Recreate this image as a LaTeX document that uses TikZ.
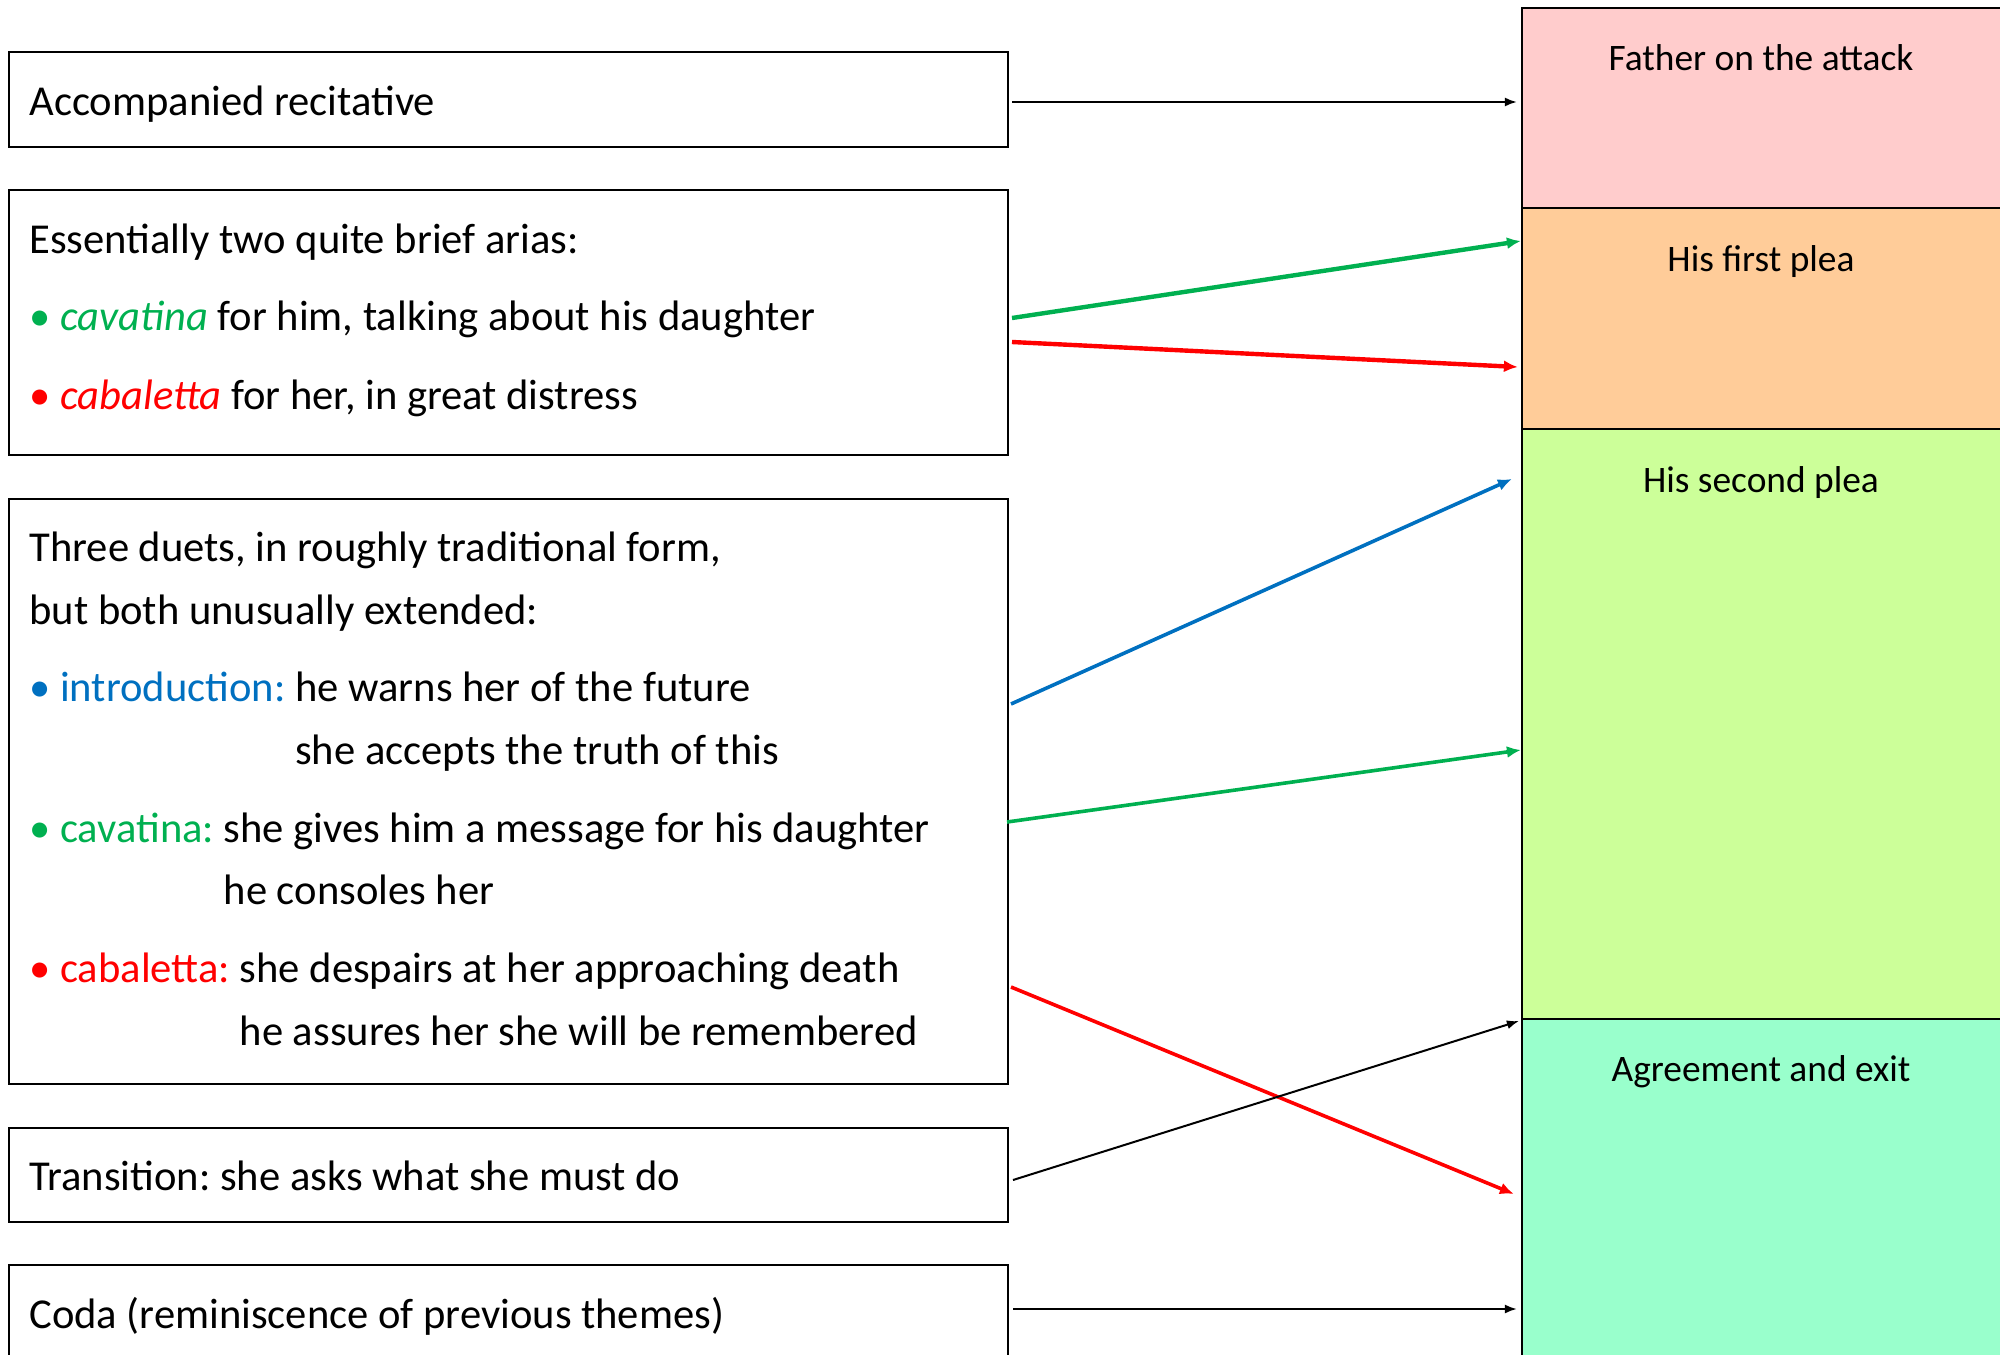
\documentclass[tikz,border=0pt]{standalone}
\usepackage{fontspec}
\setmainfont{Carlito}
\usetikzlibrary{arrows.meta,calc}
\definecolor{cgreen}{HTML}{00B050}
\definecolor{cred}{HTML}{FF0000}
\definecolor{cblue}{HTML}{0070C0}
\definecolor{fpink}{HTML}{FFCCCC}
\definecolor{forange}{HTML}{FFCC99}
\definecolor{fgreen}{HTML}{CCFF99}
\definecolor{fteal}{HTML}{99FFCC}
\frenchspacing
\begin{document}
\begin{tikzpicture}[x=0.5pt,y=-0.5pt,
  lbox/.style={draw=black, line width=1pt, inner sep=0pt, minimum width=499.5pt},
  seg/.style={draw=black, line width=1.1pt, inner sep=0pt, minimum width=244pt},
  ltext/.style={anchor=base west, inner sep=0pt, font=\fontsize{21.3pt}{25pt}\selectfont},
  rtext/.style={anchor=base, inner sep=0pt, font=\fontsize{18.7pt}{22pt}\selectfont},
  thin/.style={draw=black, line width=1pt, -{Latex[length=6pt,width=4.5pt]}},
  thick/.style={line width=2.2pt, -{Latex[length=7pt,width=6pt]}},
  mid/.style={line width=1.8pt, -{Latex[length=7pt,width=6pt]}}
]
\useasboundingbox (0,0) rectangle (2000,1354);

% right column
\node[seg, fill=fpink, minimum height=100pt] (pink) at (1766,108) {};
\node[seg, fill=forange, minimum height=110.5pt] (orange) at (1766,318.5) {};
\node[seg, fill=fgreen, minimum height=295pt] (green) at (1766,724) {};
\node[seg, fill=fteal, minimum height=180.5pt] (teal) at (1766,1199.5) {};

\node[rtext] (h1) at (1761,71) {Father on the attack};
\node[rtext] (h2) at (1761,271) {His first plea};
\node[rtext] (h3) at (1761,492) {His second plea};
\node[rtext] (h4) at (1761,1081) {Agreement and exit};

% left boxes
\node[lbox, minimum height=47.5pt] (b1) at (508.5,99.5) {};
\node[lbox, minimum height=132.5pt] (b2) at (508.5,322.5) {};
\node[lbox, minimum height=292.5pt] (b3) at (508.5,791.5) {};
\node[lbox, minimum height=47pt] (b4) at (508.5,1175) {};
\node[lbox, minimum height=57.5pt] (b5) at (508.5,1322.5) {};

\node[ltext] (t1) at (29,115) {Accompanied recitative};
\node[ltext] (t2a) at (29,253) {Essentially two quite brief arias:};
\node[ltext] (t2b) at (29,330) {{\color{cgreen}• \textit{cavatina}} for him, talking about his daughter};
\node[ltext] (t2c) at (29,409) {{\color{cred}• \textit{cabaletta}} for her, in great distress};
\node[ltext] (t3a) at (29,561) {Three duets, in roughly traditional form,};
\node[ltext] (t3b) at (29,624) {but both unusually extended:};
\node[ltext] (t3c) at (29,701) {{\color{cblue}• introduction:} he warns her of the future};
\node[ltext] (t3d) at (29,764) {\phantom{• introduction: }she accepts the truth of this};
\node[ltext] (t3e) at (29,842) {{\color{cgreen}• cavatina:} she gives him a message for his daughter};
\node[ltext] (t3f) at (29,904) {\phantom{• cavatina: }he consoles her};
\node[ltext] (t3g) at (29,982) {{\color{cred}• cabaletta:} she despairs at her approaching death};
\node[ltext] (t3h) at (29,1045) {\phantom{• cabaletta: }he assures her she will be remembered};
\node[ltext] (t4) at (29,1190) {Transition: she asks what she must do};
\node[ltext] (t5) at (29,1328) {Coda (reminiscence of previous themes)};

% connectors
\draw[thin] ($(b1.east)+(3,2.5)$) -- ($(pink.west)+(-4,-6)$);
\draw[thick, draw=cgreen] ($(b2.east)+(3,-4.5)$) -- ($(orange.west)+(0,-77.5)$);
\draw[thick, draw=cred] ($(b2.east)+(3,19.5)$) -- ($(orange.west)+(-3,48.5)$);
\draw[mid, draw=cblue] ($(b3.east)+(2,-87.5)$) -- ($(green.west)+(-9,-245)$);
\draw[mid, draw=cgreen] ($(b3.east)+(-2,30.5)$) -- ($(green.west)+(0,26)$);
\draw[mid, draw=cred] ($(b3.east)+(2,195.5)$) -- ($(teal.west)+(-7,-5.5)$);
\draw[thin] ($(b4.east)+(4,5)$) -- ($(teal.west)+(-2,-178.5)$);
\draw[thin] ($(b5.east)+(4,-13.5)$) -- ($(teal.west)+(-4,109.5)$);
\end{tikzpicture}
\end{document}
